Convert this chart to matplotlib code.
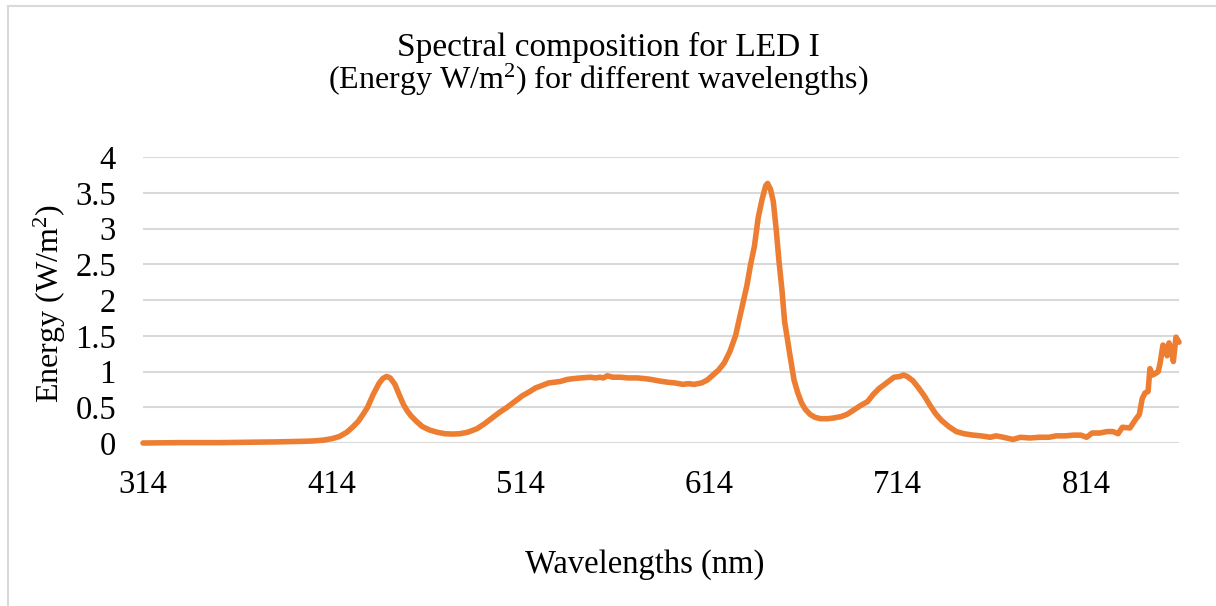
import matplotlib
matplotlib.use("Agg")
import matplotlib.pyplot as plt
from matplotlib.lines import Line2D

wavelengths = [314, 324, 334, 344, 354, 364, 374, 384, 394, 401, 405, 409.5, 414, 418, 422, 425, 428, 430.6, 433, 436,
               439, 441, 443, 445, 447.5, 450, 452, 454, 456, 459, 462, 466, 470, 474, 478, 482, 486, 491, 495, 499,
               503, 507, 510, 515, 519, 522, 526, 529, 532, 535, 539, 542, 546, 551, 554, 556, 558, 560, 563, 567,
               571, 576, 580, 583, 587, 592, 596, 600, 603, 606, 610, 613, 616, 619, 622, 625, 628, 631, 634, 636,
               638, 640, 642, 644, 645, 646.5, 648, 649.5, 651, 652.6, 654, 655.5, 657, 659, 661, 663, 665, 667.5, 670, 673,
               677, 680, 684, 687, 690, 694, 698, 701, 704, 708, 712, 715, 717, 719, 722, 725, 728, 731, 734, 737,
               741, 745, 749, 754, 758, 763, 766, 770, 775, 779, 784, 789, 794, 798, 803, 807, 811, 814, 817, 821,
               825, 828, 830.7, 833, 837, 840, 842, 843.5, 845, 846.6, 847.6, 849, 851, 852, 853, 854.5, 855.6, 856.7, 857.7, 859,
               860, 861.4, 863]
energy = [0.0, 0.003, 0.005, 0.005, 0.005, 0.008, 0.01, 0.015, 0.02, 0.025, 0.03, 0.04, 0.06, 0.09, 0.15, 0.22, 0.3, 0.4, 0.5, 0.68,
          0.83, 0.9, 0.93, 0.91, 0.82, 0.66, 0.54, 0.45, 0.38, 0.3, 0.23, 0.18, 0.15, 0.13, 0.125, 0.13, 0.15, 0.2, 0.27, 0.35,
          0.43, 0.5, 0.56, 0.66, 0.72, 0.77, 0.81, 0.84, 0.85, 0.86, 0.89, 0.90, 0.91, 0.92, 0.91, 0.92, 0.91, 0.94, 0.92, 0.92,
          0.91, 0.91, 0.90, 0.89, 0.87, 0.85, 0.84, 0.82, 0.83, 0.82, 0.84, 0.88, 0.95, 1.02, 1.12, 1.28, 1.5, 1.85, 2.2, 2.5,
          2.75, 3.15, 3.4, 3.6, 3.63, 3.55, 3.38, 3.0, 2.55, 2.14, 1.7, 1.45, 1.2, 0.88, 0.7, 0.56, 0.47, 0.4, 0.36, 0.34,
          0.34, 0.35, 0.37, 0.4, 0.45, 0.52, 0.58, 0.68, 0.76, 0.84, 0.92, 0.93, 0.95, 0.93, 0.87, 0.77, 0.66, 0.53, 0.41, 0.32,
          0.23, 0.16, 0.13, 0.11, 0.1, 0.08, 0.1, 0.08, 0.05, 0.08, 0.07, 0.08, 0.08, 0.1, 0.1, 0.11, 0.11, 0.08, 0.14, 0.14,
          0.16, 0.16, 0.13, 0.22, 0.21, 0.33, 0.4, 0.62, 0.7, 0.72, 1.04, 0.95, 0.98, 1.0, 1.12, 1.37, 1.33, 1.22, 1.4, 1.3,
          1.14, 1.48, 1.41]
x_ticks = [314, 414, 514, 614, 714, 814]
y_ticks = [0, 0.5, 1, 1.5, 2, 2.5, 3, 3.5, 4]
y_tick_labels = ["0", "0.5", "1", "1.5", "2", "2.5", "3", "3.5", "4"]

plt.rcParams['font.family'] = ['Liberation Serif', 'DejaVu Serif']
plt.rcParams['mathtext.fontset'] = 'custom'
plt.rcParams['mathtext.rm'] = 'Liberation Serif'
plt.rcParams['mathtext.it'] = 'Liberation Serif:italic'
plt.rcParams['mathtext.default'] = 'regular'

W, H = 1216, 606
fig = plt.figure(figsize=(W / 100, H / 100), dpi=100)
ax = fig.add_axes([143 / W, 1 - 443 / H, (1179 - 143) / W, (443 - 157) / H])

ax.plot(wavelengths, energy, color='#ED7D31', lw=4.0, solid_joinstyle='round', solid_capstyle='round',
        clip_on=False, zorder=3)

ax.set_xlim(314, 863)
ax.set_ylim(0, 4)
ax.set_xticks(x_ticks)
ax.set_xticklabels([str(t) for t in x_ticks])
ax.set_yticks(y_ticks)
ax.set_yticklabels(y_tick_labels)
ax.tick_params(axis='both', length=0, labelsize=23.5, colors='black')
ax.tick_params(axis='x', pad=19)
ax.tick_params(axis='y', pad=19.5)
ax.grid(axis='y', color='#d9d9d9', lw=1.5)
ax.set_axisbelow(True)
for s in ax.spines.values():
    s.set_visible(False)

fig.text(608 / W, 1 - 47 / H, "Spectral composition for LED I", ha='center', va='center', fontsize=24)
fig.text(598 / W, 1 - 80 / H, "(Energy W/m$^{2}$) for different wavelengths)", ha='center', va='center', fontsize=23)
fig.text(50 / W, 1 - 304 / H, "Energy (W/m$^{2}$)", ha='center', va='center', rotation=90, fontsize=23)
fig.text(645 / W, 1 - 565 / H, "Wavelengths (nm)", ha='center', va='center', fontsize=23.5)

fig.add_artist(Line2D([8 / W, 1], [1 - 6 / H, 1 - 6 / H], transform=fig.transFigure, color='#d9d9d9', lw=1.5))
fig.add_artist(Line2D([8 / W, 8 / W], [0, 1 - 6 / H], transform=fig.transFigure, color='#d9d9d9', lw=1.5))

fig.savefig("out.png", dpi=100)
